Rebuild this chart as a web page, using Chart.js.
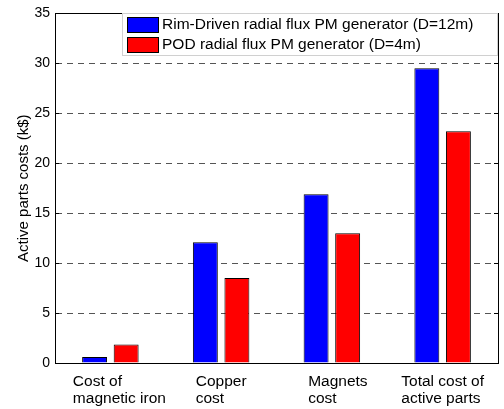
<!DOCTYPE html>
<html>
<head>
<meta charset="utf-8">
<script src="https://cdn.jsdelivr.net/npm/chart.js@4/dist/chart.umd.min.js"></script>
<style>
  html, body { margin: 0; padding: 0; background: #fff; }
  #wrap { width: 504px; height: 409px; }
</style>
</head>
<body>
<div id="wrap"><canvas id="myChart" width="504" height="409"></canvas></div>
<script>
// data
var categories = [
  ["Cost of", "magnetic iron"],
  ["Copper", "cost"],
  ["Magnets", "cost"],
  ["Total cost of", "active parts"]
];
var rimDriven = [0.6, 12.1, 16.9, 29.5];
var podGen = [1.85, 8.5, 13.0, 23.2];
var seriesNames = ["Rim-Driven radial flux PM generator (D=12m)", "POD radial flux PM generator (D=4m)"];
var yTicks = [0, 5, 10, 15, 20, 25, 30, 35];

// small horizontal nudges of the category labels (as placed in the original)
var labelShift = [9, 0, 6, 0];

var FONT = "'Liberation Sans', Arial, Helvetica, sans-serif";

// draws box around axes, tick marks, category labels and the legend
var extras = {
  id: 'extras',
  afterDraw: function (chart) {
    var c = chart.ctx;
    var a = chart.chartArea;
    var x = chart.scales.x;
    var y = chart.scales.y;

    c.save();
    c.strokeStyle = '#000';
    c.lineWidth = 1;
    c.strokeRect(Math.round(a.left) + 0.5, Math.round(a.top) + 0.5,
                 Math.round(a.right - a.left), Math.round(a.bottom - a.top));

    // inward tick marks on left and right
    c.beginPath();
    yTicks.forEach(function (v) {
      var py = Math.round(y.getPixelForValue(v)) + 0.5;
      c.moveTo(a.left, py); c.lineTo(a.left + 4, py);
      c.moveTo(a.right, py); c.lineTo(a.right - 4, py);
    });
    c.stroke();

    // x labels: lines left aligned, block centered on the category
    c.font = '15.5px ' + FONT;
    c.fillStyle = '#000';
    c.textAlign = 'left';
    c.textBaseline = 'alphabetic';
    categories.forEach(function (lines, i) {
      var w = Math.max.apply(null, lines.map(function (t) { return c.measureText(t).width; }));
      var left = x.getPixelForValue(i) - w / 2 + labelShift[i];
      lines.forEach(function (t, j) {
        c.fillText(t, left, a.bottom + 23 + j * 17);
      });
    });

    // legend
    var lx = 122, ly = 13;
    c.fillStyle = '#fff';
    c.fillRect(lx, ly, 375, 42);
    c.strokeStyle = '#d0d0d0';
    c.strokeRect(lx + 0.5, ly + 0.5, 375, 42);
    c.textBaseline = 'middle';
    chart.data.datasets.forEach(function (ds, i) {
      var sy = ly + 4 + i * 20;
      c.fillStyle = ds.backgroundColor;
      c.fillRect(lx + 5, sy, 31, 15);
      c.strokeStyle = '#000';
      c.strokeRect(lx + 5.5, sy + 0.5, 31, 15);
      c.fillStyle = '#000';
      c.fillText(ds.label, lx + 40, sy + 8);
    });
    c.restore();
  }
};

var ctx = document.getElementById('myChart').getContext('2d');
var myChart = new Chart(ctx, {
  type: 'bar',
  data: {
    labels: categories,
    datasets: [{
      label: seriesNames[0],
      data: rimDriven,
      backgroundColor: '#0000ff',
      borderColor: '#000',
      borderWidth: 1
    }, {
      label: seriesNames[1],
      data: podGen,
      backgroundColor: '#ff0000',
      borderColor: '#000',
      borderWidth: 1
    }]
  },
  options: {
    responsive: false,
    animation: false,
    layout: { padding: { top: 8, right: 6, left: 0, bottom: 0 } },
    categoryPercentage: 0.57,
    barPercentage: 0.79,
    plugins: {
      legend: { display: false },
      tooltip: { enabled: false }
    },
    scales: {
      x: {
        grid: { display: false },
        border: { color: '#000', width: 1 },
        ticks: { color: 'rgba(0,0,0,0)', font: { family: FONT, size: 15 } },
        afterFit: function (s) { s.height = 46; }
      },
      y: {
        min: 0,
        max: 35,
        afterBuildTicks: function (s) {
          s.ticks = yTicks.map(function (v) { return { value: v }; });
        },
        grid: {
          color: function (c) { return (c.tick.value === 0 || c.tick.value === 35) ? 'rgba(0,0,0,0)' : '#555'; },
          drawTicks: false
        },
        border: { color: '#000', width: 1, dash: [6, 5] },
        ticks: { color: '#000', padding: 5, font: { family: FONT, size: 14 } },
        title: {
          display: true,
          text: 'Active parts costs (k$)',
          color: '#000',
          font: { family: FONT, size: 15 },
          padding: { top: 15, bottom: 0 }
        },
        afterFit: function (s) { s.width = 55; }
      }
    }
  },
  plugins: [extras]
});
</script>
</body>
</html>
